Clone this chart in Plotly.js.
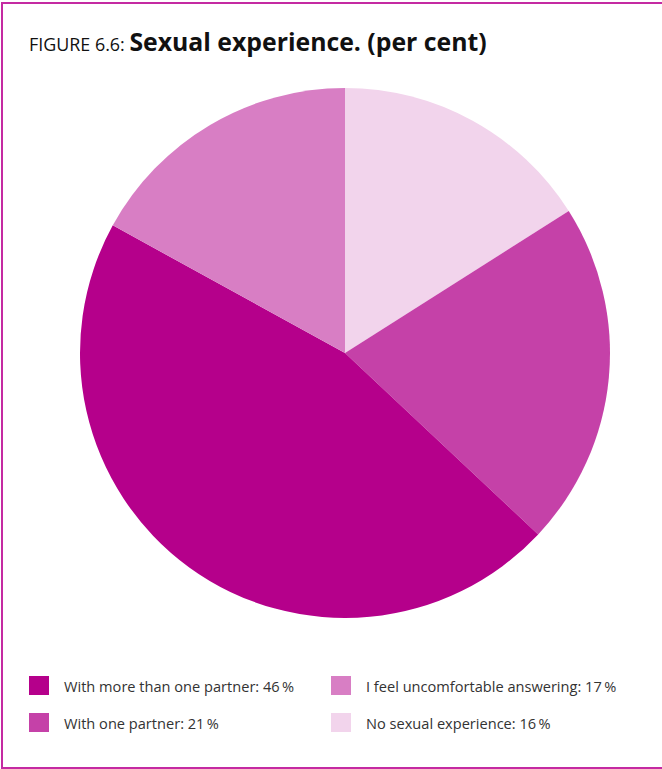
<!DOCTYPE html>
<html>
<head>
<meta charset="utf-8">
<script src="https://cdn.plot.ly/plotly-3.0.1.min.js"></script>
<style>
  html, body { margin: 0; padding: 0; background: #fff; }
  #wrap { position: relative; width: 662px; height: 769px; overflow: hidden; }
  #chart { position: absolute; left: 0; top: 0; width: 662px; height: 769px; }
  #frame { position: absolute; left: 1px; top: 2px; width: 680px; height: 767px;
           border: 2px solid #C42AA2; pointer-events: none; box-sizing: border-box; }
</style>
</head>
<body>
<div id="wrap">
  <div id="chart"></div>
  <div id="frame"></div>
</div>
<script>
// Data (pie order: clockwise from 12 o'clock)
const categories = ["No sexual experience", "With one partner", "With more than one partner", "I feel uncomfortable answering"];
const values = [16, 21, 46, 17];
const colors = ["#F2D4EC", "#C541A8", "#B5008B", "#D87EC4"];
// Legend order (row by row, two columns)
const legendOrder = [2, 3, 1, 0];

const W = 662, H = 769;
const M = { l: 80, r: 52, t: 88, b: 151 };
const plotW = W - M.l - M.r, plotH = H - M.t - M.b;
const px2x = p => (p - M.l) / plotW;
const py2y = p => (H - M.b - p) / plotH;

const shapes = [], annotations = [];
const colX = [29, 331], rowY = [676, 713], sw = 20, sh = 19;
legendOrder.forEach((idx, k) => {
  const col = k % 2, row = Math.floor(k / 2);
  const x0 = colX[col], y0 = rowY[row];
  shapes.push({
    type: "rect", xref: "paper", yref: "paper",
    x0: px2x(x0), x1: px2x(x0 + sw), y0: py2y(y0 + sh), y1: py2y(y0),
    fillcolor: colors[idx], line: { width: 0 }
  });
  annotations.push({
    xref: "paper", yref: "paper", x: px2x(x0 + 33), y: py2y(y0 + sh / 2),
    xanchor: "left", yanchor: "middle", showarrow: false,
    text: categories[idx] + ": " + values[idx] + "\u2009%",
    font: { family: "Open Sans, Noto Sans, sans-serif", size: 14.6, color: "#333333" }
  });
});

const data = [{
  type: "pie",
  labels: categories,
  values: values,
  sort: false,
  direction: "clockwise",
  rotation: 0,
  marker: { colors: colors, line: { width: 0 } },
  textinfo: "none",
  hoverinfo: "label+percent",
  showlegend: false
}];

const layout = {
  width: W, height: H,
  margin: M,
  paper_bgcolor: "#ffffff",
  plot_bgcolor: "#ffffff",
  showlegend: false,
  title: {
    text: '<span style="font-size:17.9px;font-weight:normal">FIGURE 6.6: </span><b>Sexual experience. (per cent)</b>',
    x: 29 / W, xref: "container", xanchor: "left",
    y: 1 - 51 / H, yref: "container", yanchor: "bottom",
    font: { family: "Open Sans, Noto Sans, sans-serif", size: 24.8, color: "#111111" }
  },
  shapes: shapes,
  annotations: annotations
};

Plotly.newPlot("chart", data, layout, { staticPlot: true, displayModeBar: false });
</script>
</body>
</html>
